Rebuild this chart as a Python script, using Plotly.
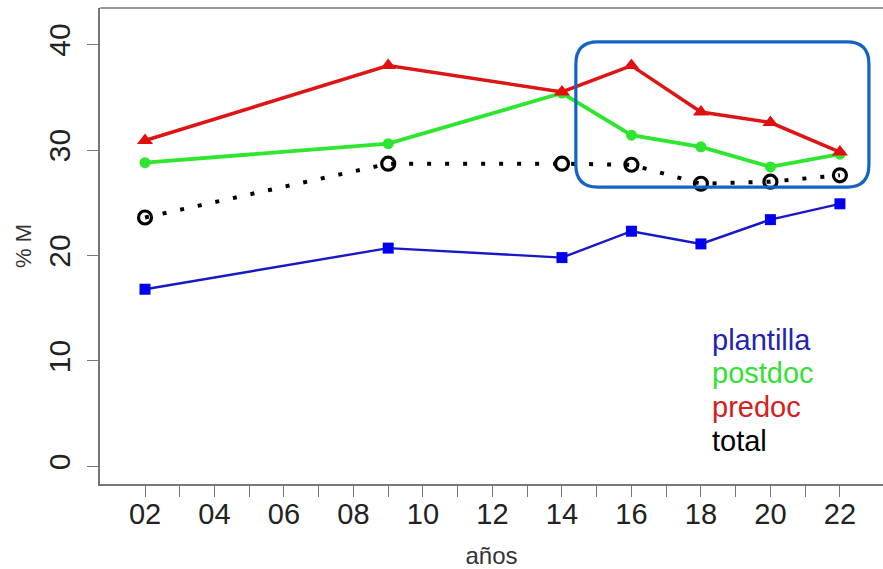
import plotly.graph_objects as go

# ---- data ----
years = [2, 9, 14, 16, 18, 20, 22]
series_names = ["plantilla", "postdoc", "predoc", "total"]
plantilla = [16.8, 20.7, 19.8, 22.3, 21.1, 23.4, 24.9]
postdoc = [28.8, 30.6, 35.4, 31.4, 30.3, 28.4, 29.6]
predoc = [30.9, 38.0, 35.5, 38.0, 33.6, 32.6, 29.8]
total = [23.6, 28.7, 28.7, 28.6, 26.8, 27.0, 27.6]

x_tick_vals = list(range(2, 23))
x_tick_text = [f"{v:02d}" if v % 2 == 0 else "" for v in x_tick_vals]
y_tick_vals = [0, 10, 20, 30, 40]

# highlight box (data coords)
box_x0, box_x1 = 14.40, 22.835
box_y0, box_y1 = 26.49, 40.24
rx, ry = 0.63, 2.09

FONT = "Liberation Sans, Arial, Helvetica, sans-serif"

fig = go.Figure()

fig.add_trace(go.Scatter(
    x=years, y=plantilla, name="plantilla", mode="lines+markers",
    line=dict(color="#1818C8", width=2.4),
    marker=dict(symbol="square", size=11, color="#0000F0"),
))
fig.add_trace(go.Scatter(
    x=years, y=postdoc, name="postdoc", mode="lines+markers",
    line=dict(color="#2EE62E", width=3.8),
    marker=dict(symbol="circle", size=11, color="#2EE62E"),
))
fig.add_trace(go.Scatter(
    x=years, y=predoc, name="predoc", mode="lines+markers",
    line=dict(color="#DD1515", width=3.5),
    marker=dict(symbol="triangle-up", size=14, color="#E01010"),
))
fig.add_trace(go.Scatter(
    x=years, y=total, name="total", mode="lines+markers",
    line=dict(color="black", width=4, dash="4px,14px"),
    marker=dict(symbol="circle-open", size=13, color="black", line=dict(width=3.2)),
))

# rounded rectangle highlight
path = (f"M {box_x0+rx},{box_y1} L {box_x1-rx},{box_y1} Q {box_x1},{box_y1} {box_x1},{box_y1-ry} "
        f"L {box_x1},{box_y0+ry} Q {box_x1},{box_y0} {box_x1-rx},{box_y0} "
        f"L {box_x0+rx},{box_y0} Q {box_x0},{box_y0} {box_x0},{box_y0+ry} "
        f"L {box_x0},{box_y1-ry} Q {box_x0},{box_y1} {box_x0+rx},{box_y1} Z")
fig.add_shape(type="path", path=path, xref="x", yref="y",
              line=dict(color="#1464C4", width=3.2))

# top frame line
fig.add_shape(type="line", xref="paper", yref="paper", x0=0, x1=1, y0=1, y1=1,
              line=dict(color="#9A9A9A", width=2))

# text legend
legend_colors = ["#2424B4", "#33E033", "#D42020", "black"]
for i, (name, col) in enumerate(zip(series_names, legend_colors)):
    fig.add_annotation(
        x=(710 - 100) / 783, y=(484 - 340 - i * 33.5) / 476,
        xref="paper", yref="paper", xanchor="left", yanchor="middle",
        text=name, showarrow=False, font=dict(size=29, color=col, family=FONT),
    )

fig.update_layout(
    width=883, height=569,
    margin=dict(l=100, r=0, t=8, b=85, autoexpand=False),
    plot_bgcolor="white", paper_bgcolor="white",
    showlegend=False,
    font=dict(family=FONT, color="#222222"),
    xaxis=dict(
        range=[0.705, 23.24], tickvals=x_tick_vals, ticktext=x_tick_text,
        showgrid=False, zeroline=False, showline=True, linecolor="#777777", linewidth=1.6,
        ticks="outside", ticklen=11, tickwidth=1.3, tickcolor="#777777",
        tickfont=dict(size=29, color="#222222"), ticklabelstandoff=-8,
        title=dict(text="años", font=dict(size=24, color="#333333"), standoff=20),
    ),
    yaxis=dict(
        range=[-1.66, 43.46], tickvals=y_tick_vals,
        showgrid=False, zeroline=False, showline=True, linecolor="#777777", linewidth=1.6,
        ticks="outside", ticklen=11, tickwidth=1.3, tickcolor="#777777",
        tickangle=-90, tickfont=dict(size=30, color="#222222"), ticklabelstandoff=5,
        title=dict(text="% M", font=dict(size=22, color="#333333"), standoff=6),
    ),
)

fig.write_html("out.html", config={"displayModeBar": False},
               post_script="document.body.style.margin='0';document.body.style.overflow='hidden';")
